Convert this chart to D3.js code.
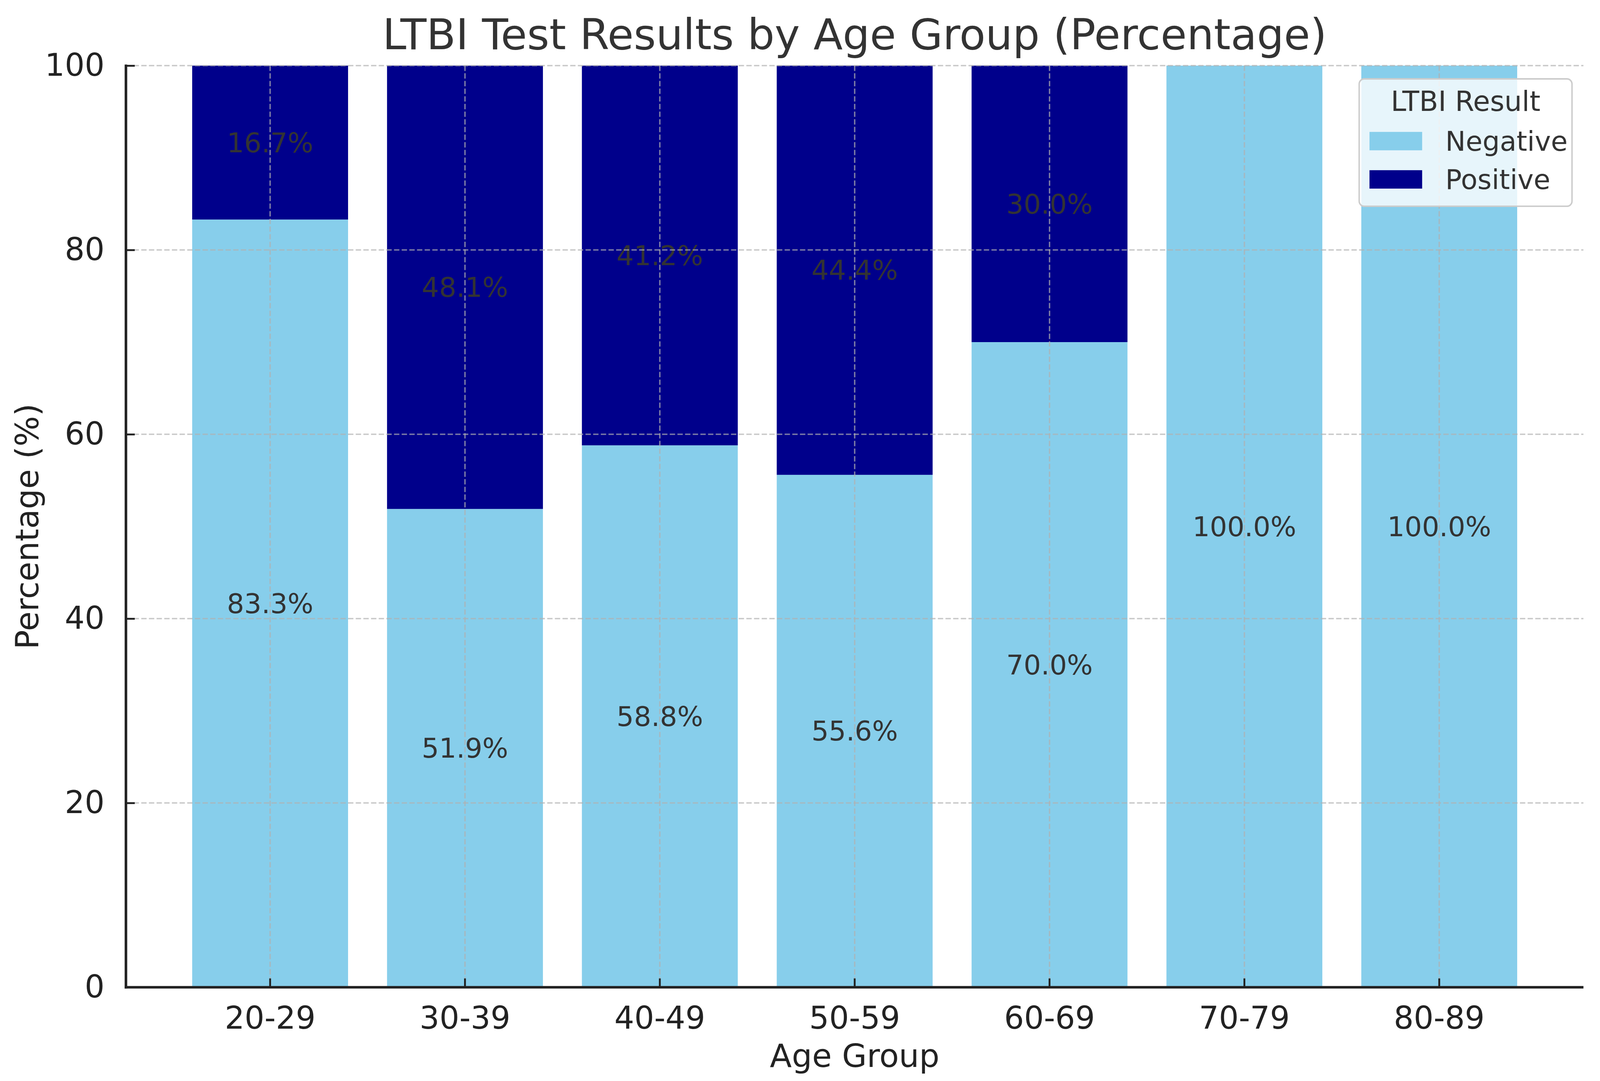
<!DOCTYPE html>
<html>
<head>
<meta charset="utf-8">
<script src="https://cdn.jsdelivr.net/npm/d3@7"></script>
<style>
  html, body { margin: 0; padding: 0; background: #ffffff; overflow: hidden; width: 100%; height: 100%; }
  svg { display: block; font-family: "DejaVu Sans", sans-serif; width: 100vw; height: 100vh; }
</style>
</head>
<body>
<svg id="chart"></svg>
<script>
const ageGroups = ["20-29", "30-39", "40-49", "50-59", "60-69", "70-79", "80-89"];
const negativePct = [83.3, 51.9, 58.8, 55.6, 70.0, 100.0, 100.0];
const positivePct = [16.7, 48.1, 41.2, 44.4, 30.0, 0.0, 0.0];
const seriesNames = ["Negative", "Positive"];
const seriesColors = ["#87CEEB", "#00008B"];
const yTickValues = [0, 20, 40, 60, 80, 100];
const chartTitle = "LTBI Test Results by Age Group (Percentage)";
const xTitle = "Age Group";
const yTitle = "Percentage (%)";
const legendTitle = "LTBI Result";

// Design canvas is 4345 x 2768; adapt vertical positions to the actual viewport shape.
const W = 4345, H0 = 2768;
const vw = window.innerWidth || W, vh = window.innerHeight || H0;
const H = W * vh / vw;
const fy = H / H0;
const sy = v => v * fy;

const M = { left: 342, right: 4300, top: sy(168), bottom: sy(2528) };

const svg = d3.select("#chart")
  .attr("viewBox", `0 0 ${W} ${H}`)
  .attr("preserveAspectRatio", "none");

svg.append("rect").attr("x", 0).attr("y", 0).attr("width", W).attr("height", H).attr("fill", "#ffffff");

const rows = ageGroups.map((g, i) => ({ group: g, Negative: negativePct[i], Positive: positivePct[i] }));
const stacked = d3.stack().keys(seriesNames)(rows);

const x = d3.scaleBand().domain(ageGroups).range([M.left, M.right]).paddingInner(0.2).paddingOuter(0.34);
const y = d3.scaleLinear().domain([0, 100]).range([M.bottom, M.top]);
const color = d3.scaleOrdinal().domain(seriesNames).range(seriesColors);

// Bars
const layers = svg.append("g").selectAll("g").data(stacked).join("g")
  .attr("fill", d => color(d.key));
layers.selectAll("rect").data(d => d).join("rect")
  .attr("x", d => x(d.data.group))
  .attr("width", x.bandwidth())
  .attr("y", d => y(d[1]))
  .attr("height", d => Math.max(0, y(d[0]) - y(d[1])));

// Bar labels
stacked.forEach(layer => {
  svg.append("g").selectAll("text").data(layer.filter(d => d[1] - d[0] > 0)).join("text")
    .attr("x", d => x(d.data.group) + x.bandwidth() / 2)
    .attr("y", d => y((d[0] + d[1]) / 2))
    .attr("text-anchor", "middle")
    .attr("dominant-baseline", "central")
    .attr("font-size", 74)
    .attr("fill", "#333333")
    .text(d => (d[1] - d[0]).toFixed(1) + "%");
});

// Grid (drawn above bars)
const grid = svg.append("g").attr("stroke", "#b0b0b0").attr("stroke-opacity", 0.7)
  .attr("stroke-width", 3.8).attr("stroke-dasharray", "14.5,6.3").attr("fill", "none");
grid.selectAll("line.h").data(yTickValues).join("line").attr("class", "h")
  .attr("x1", M.left).attr("x2", M.right)
  .attr("y1", d => y(d)).attr("y2", d => y(d));
grid.selectAll("line.v").data(ageGroups).join("line").attr("class", "v")
  .attr("x1", d => x(d) + x.bandwidth() / 2).attr("x2", d => x(d) + x.bandwidth() / 2)
  .attr("y1", M.top).attr("y2", M.bottom);

// Axes
const yAxis = d3.axisLeft(y).tickValues(yTickValues).tickSizeInner(-24).tickSizeOuter(0).tickPadding(58);
const gy = svg.append("g").attr("transform", `translate(${M.left},0)`).call(yAxis);
gy.select(".domain").remove();
gy.selectAll(".tick line").attr("stroke", "#222222").attr("stroke-width", 5);
gy.selectAll(".tick text").attr("font-size", 85).attr("fill", "#222222")
  .attr("font-family", "DejaVu Sans, sans-serif");

const xAxis = d3.axisBottom(x).tickSizeInner(-24).tickSizeOuter(0).tickPadding(52);
const gx = svg.append("g").attr("transform", `translate(0,${M.bottom})`).call(xAxis);
gx.select(".domain").remove();
gx.selectAll(".tick line").attr("stroke", "#222222").attr("stroke-width", 5);
gx.selectAll(".tick text").attr("font-size", 85).attr("fill", "#222222")
  .attr("font-family", "DejaVu Sans, sans-serif");

// Spines
svg.append("line").attr("x1", M.left).attr("x2", M.left).attr("y1", M.top - 3).attr("y2", M.bottom + 3.5)
  .attr("stroke", "#222222").attr("stroke-width", 7);
svg.append("line").attr("x1", M.left - 3.5).attr("x2", M.right).attr("y1", M.bottom).attr("y2", M.bottom)
  .attr("stroke", "#222222").attr("stroke-width", 7);

// Titles
svg.append("text").attr("x", (M.left + M.right) / 2).attr("y", sy(126))
  .attr("text-anchor", "middle").attr("font-size", 116).attr("fill", "#333333").text(chartTitle);
svg.append("text").attr("x", (M.left + M.right) / 2).attr("y", sy(2732))
  .attr("text-anchor", "middle").attr("font-size", 87).attr("fill", "#222222").text(xTitle);
svg.append("text").attr("transform", `translate(104,${(M.top + M.bottom) / 2}) rotate(-90)`)
  .attr("text-anchor", "middle").attr("font-size", 87).attr("fill", "#222222").text(yTitle);

// Legend
const LT = sy(202);
const lg = svg.append("g").attr("transform", `translate(0,${LT})`);
lg.append("rect").attr("x", 3691).attr("y", 0).attr("width", 578).attr("height", 346)
  .attr("rx", 14).attr("ry", 14).attr("fill", "#ffffff").attr("fill-opacity", 0.8)
  .attr("stroke", "#cccccc").attr("stroke-width", 4);
lg.append("text").attr("x", 3980).attr("y", 87).attr("text-anchor", "middle")
  .attr("font-size", 75).attr("fill", "#333333").text(legendTitle);
seriesNames.forEach((name, i) => {
  lg.append("rect").attr("x", 3719).attr("y", 144 + i * 104).attr("width", 143).attr("height", 50)
    .attr("fill", color(name));
  lg.append("text").attr("x", 3925).attr("y", 195 + i * 104)
    .attr("font-size", 74).attr("fill", "#333333").text(name);
});
</script>
</body>
</html>
